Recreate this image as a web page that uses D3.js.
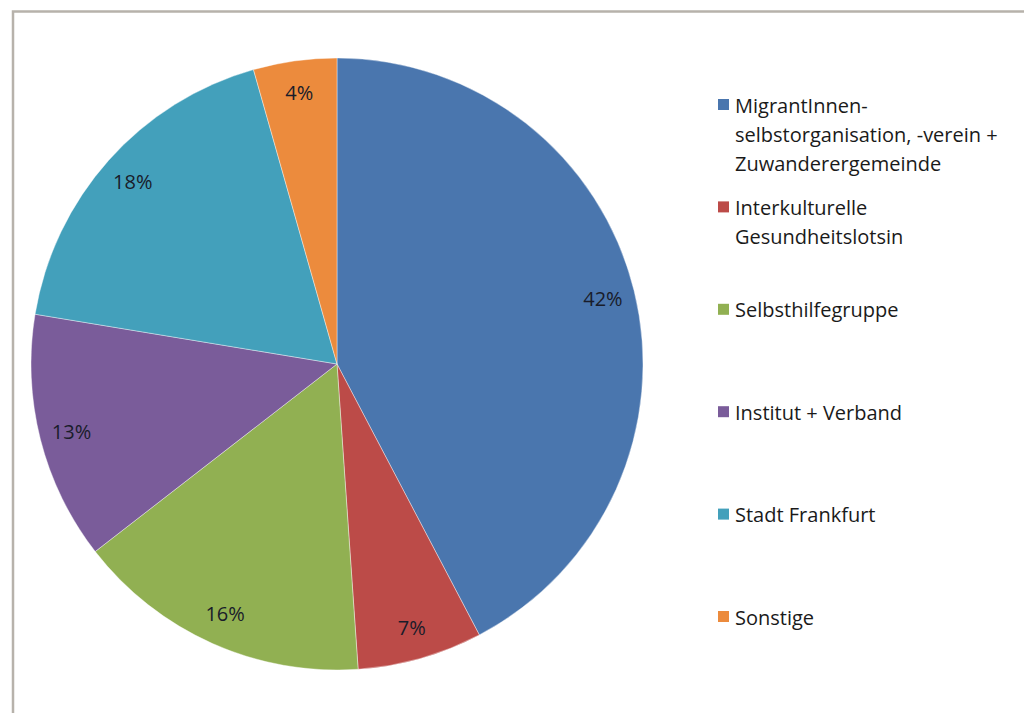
<!DOCTYPE html>
<html><head><meta charset="utf-8">
<script src="https://cdn.jsdelivr.net/npm/d3@7/dist/d3.min.js"></script>
<style>html,body{margin:0;padding:0;background:#fff;overflow:hidden}</style>
</head><body>
<svg id="chart" width="1024" height="713"></svg>
<script>
const categories = [
  ["MigrantInnen-", "selbstorganisation, -verein +", "Zuwanderergemeinde"],
  ["Interkulturelle", "Gesundheitslotsin"],
  ["Selbsthilfegruppe"],
  ["Institut + Verband"],
  ["Stadt Frankfurt"],
  ["Sonstige"]
];
const values = [42.3, 6.6, 15.6, 13.1, 18.0, 4.4];
const labels = ["42%", "7%", "16%", "13%", "18%", "4%"];
const colors = ["#4a76ae", "#bc4b48", "#91b052", "#7a5c9a", "#43a0bb", "#ec8b3d"];

const svg = d3.select("#chart");
const W = 1024, H = 713;

// frame
svg.append("path")
  .attr("d", `M13,${H + 5} L13,11.5 L${W + 5},11.5`)
  .attr("fill", "none").attr("stroke", "#b7b2ab").attr("stroke-width", 2.5);

const cx = 337, cy = 364, r = 306;
const g = svg.append("g").attr("transform", `translate(${cx},${cy})`);
const pie = d3.pie().sort(null).value(d => d)(values);
const arc = d3.arc().innerRadius(0).outerRadius(r);
const labelArc = d3.arc().innerRadius(r * 0.895).outerRadius(r * 0.895);

g.selectAll("path.slice").data(pie).join("path")
  .attr("class", "slice")
  .attr("d", arc)
  .attr("fill", (d, i) => colors[i])
  .attr("stroke", "#ffffff").attr("stroke-width", 0.4);

g.selectAll("text.lbl").data(pie).join("text")
  .attr("class", "lbl")
  .attr("transform", d => `translate(${labelArc.centroid(d)})`)
  .attr("text-anchor", "middle").attr("dominant-baseline", "central")
  .attr("font-family", "'Open Sans', Lato, sans-serif")
  .attr("font-size", 20)
  .attr("fill", "#191c2a")
  .text((d, i) => labels[i]);

// legend
const legY = d3.scalePoint().domain(d3.range(categories.length)).range([105, 617]);
const lineH = 29;
const leg = svg.append("g");
categories.forEach((lines, i) => {
  const y0 = legY(i);
  leg.append("rect")
    .attr("x", 718).attr("y", y0 - 6).attr("width", 11).attr("height", 11)
    .attr("fill", colors[i]);
  const t = leg.append("text")
    .attr("font-family", "'Open Sans', Lato, sans-serif")
    .attr("font-size", 20).attr("fill", "#1a1a1a");
  lines.forEach((ln, j) => {
    t.append("tspan").attr("x", 735).attr("y", y0 + j * lineH)
      .attr("dominant-baseline", "central").text(ln);
  });
});
</script>
</body></html>
